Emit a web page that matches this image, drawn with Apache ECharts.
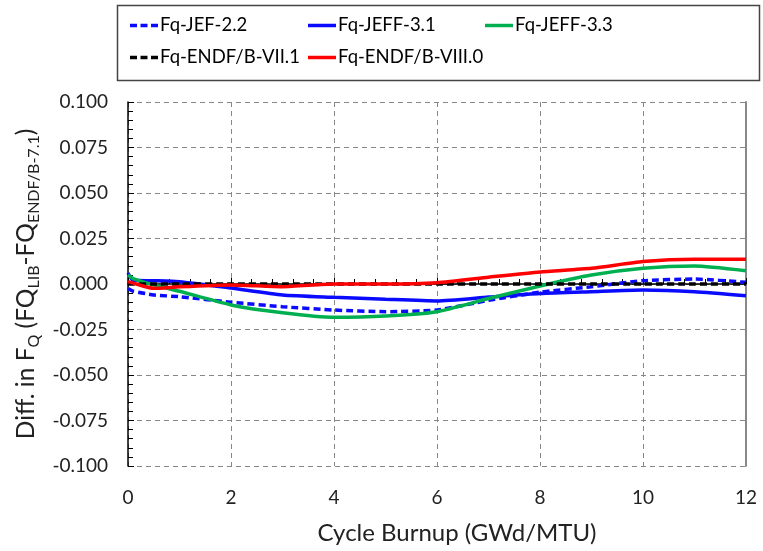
<!DOCTYPE html>
<html>
<head>
<meta charset="utf-8">
<script src="https://cdn.jsdelivr.net/npm/echarts@6/dist/echarts.min.js"></script>
<style>
html,body{margin:0;padding:0;background:#fff;}
#chart{width:763px;height:551px;}
</style>
</head>
<body>
<div id="chart"></div>
<script>
// ---- data ----
var burnup = [0, 0.1, 0.5, 1, 2, 3, 4, 5, 6, 7, 8, 9, 10, 11, 12];
var jef22 = [-0.0025, -0.004, -0.006, -0.007, -0.0100, -0.0125, -0.0143, -0.0152, -0.0143, -0.0090, -0.0045, -0.0015, 0.0018, 0.0027, 0.0009];
var jeff31 = [0.0060, 0.0020, 0.0018, 0.0013, -0.0022, -0.0060, -0.0073, -0.0084, -0.0093, -0.0072, -0.0052, -0.0042, -0.0033, -0.0042, -0.0064];
var jeff33 = [0.0050, 0.0030, -0.0005, -0.0040, -0.0115, -0.0158, -0.0183, -0.0176, -0.0152, -0.0080, -0.0011, 0.0049, 0.0086, 0.0099, 0.0073];
var endf71 = [0, 0, 0, 0, 0, 0, 0, 0, 0, 0, 0, 0, 0, 0, 0];
var endf80 = [0.0013, 0.0005, -0.0024, -0.0015, -0.0005, -0.0015, 0.0000, 0.0000, 0.0007, 0.0037, 0.0066, 0.0086, 0.0123, 0.0136, 0.0136];
var seriesNames = ['Fq-JEF-2.2', 'Fq-JEFF-3.1', 'Fq-JEFF-3.3', 'Fq-ENDF/B-VII.1', 'Fq-ENDF/B-VIII.0'];
var xTicks = [0, 2, 4, 6, 8, 10, 12];
var yTicks = [-0.100, -0.075, -0.050, -0.025, 0.000, 0.025, 0.050, 0.075, 0.100];

function zip(xs, ys) { return xs.map(function (x, i) { return [x, ys[i]]; }); }

var FONT = 'Lato';
var DASH_ICON = 'path://M0,0h7v3.5h-7z M10.5,0h7v3.5h-7z M21,0h7v3.5h-7z';
var SOLID_ICON = 'path://M0,0h28v3.5h-28z';
var chart = echarts.init(document.getElementById('chart'));

function mkSeries(name, vals, color, dashed) {
  return {
    name: name, type: 'line', data: zip(burnup, vals),
    symbol: 'none', smooth: 0.2,
    lineStyle: { color: color, width: 3.5, type: dashed ? [7, 4] : 'solid' },
    itemStyle: { color: color }
  };
}

function mkLegend(name, dashed, left, top) {
  return {
    data: [{ name: name, icon: dashed ? DASH_ICON : SOLID_ICON }],
    left: left, top: top, itemWidth: 28, itemHeight: 3.5, itemGap: 0,
    padding: 0,
    textStyle: { fontFamily: FONT, fontSize: 18.5, color: '#000', padding: [0, 0, 0, -3] }
  };
}

var option = {
  animation: false,
  backgroundColor: '#fff',
  grid: { left: 128, right: 17, top: 102, bottom: 85 },
  legend: [
    mkLegend(seriesNames[0], true, 130, 16),
    mkLegend(seriesNames[1], false, 308, 16),
    mkLegend(seriesNames[2], false, 485, 16),
    mkLegend(seriesNames[3], true, 130, 48),
    mkLegend(seriesNames[4], false, 308, 48)
  ],
  graphic: [{
    type: 'rect', left: 115, top: 3,
    shape: { width: 642, height: 75 },
    style: { fill: 'none', stroke: '#444', lineWidth: 1.5 }
  }],
  xAxis: {
    type: 'value', min: xTicks[0], max: xTicks[xTicks.length - 1], interval: 2,
    name: 'Cycle Burnup (GWd/MTU)', nameLocation: 'middle', nameGap: 55,
    nameTextStyle: { fontFamily: FONT, fontSize: 24, color: '#222', padding: [0, 0, 0, 40] },
    axisLine: { lineStyle: { color: '#000', width: 1.5 } },
    axisTick: { inside: true, length: 6, lineStyle: { color: '#000' } },
    minorTick: { show: true, splitNumber: 5, length: 5, lineStyle: { color: '#000' } },
    axisLabel: { fontFamily: FONT, fontSize: 19, color: '#222', margin: 22 },
    splitLine: { show: true, lineStyle: { color: '#888', type: [5, 4], width: 1 } }
  },
  yAxis: [{
    type: 'value', min: yTicks[0], max: yTicks[yTicks.length - 1], interval: 0.025,
    name: '{m|Diff. in F}{s|Q}{m| (FQ}{s|LIB}{m|-FQ}{s|ENDF/B-7.1}{m|)}',
    nameLocation: 'middle', nameGap: 80, nameRotate: 90,
    nameTextStyle: {
      fontFamily: FONT, color: '#222',
      rich: {
        m: { fontFamily: FONT, fontSize: 24.5, color: '#222', lineHeight: 31, verticalAlign: 'middle' },
        s: { fontFamily: FONT, fontSize: 16, color: '#222', lineHeight: 31, verticalAlign: 'bottom' }
      }
    },
    axisLine: { show: true, onZero: false, lineStyle: { color: '#000', width: 1.5 } },
    axisTick: { show: true, inside: true, length: 6, lineStyle: { color: '#000' } },
    minorTick: { show: true, splitNumber: 5, length: 5, lineStyle: { color: '#000' } },
    axisLabel: { fontFamily: FONT, fontSize: 19, color: '#222', margin: 20,
      formatter: function (v) { return v.toFixed(3); } },
    splitLine: { show: true, lineStyle: { color: '#888', type: [5, 4], width: 1 } }
  }, {
    type: 'value', position: 'right', min: yTicks[0], max: yTicks[yTicks.length - 1], interval: 0.025,
    axisLine: { show: true, onZero: false, lineStyle: { color: '#888', width: 2 } },
    axisTick: { show: false }, axisLabel: { show: false }, splitLine: { show: false }
  }],
  series: [
    mkSeries(seriesNames[0], jef22, '#0a0aff', true),
    mkSeries(seriesNames[1], jeff31, '#0a0aff', false),
    mkSeries(seriesNames[2], jeff33, '#00b050', false),
    mkSeries(seriesNames[3], endf71, '#000000', true),
    mkSeries(seriesNames[4], endf80, '#ff0000', false)
  ]
};
chart.setOption(option);
</script>
</body>
</html>
